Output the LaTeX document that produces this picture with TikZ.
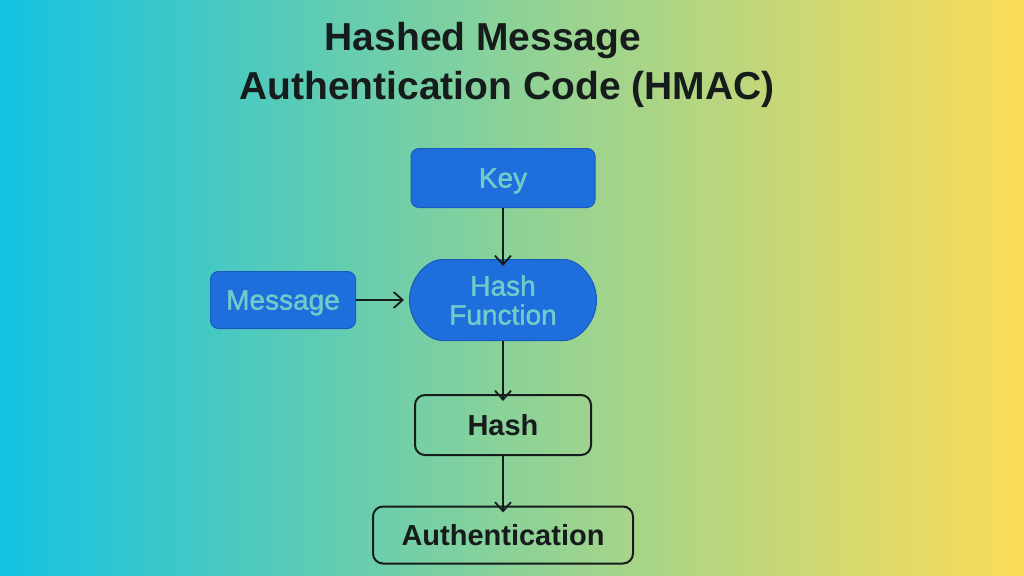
\documentclass[tikz,border=0pt]{standalone}
\usepackage{fontspec}
\setmainfont{Liberation Sans}
\newfontfamily\semib[FakeBold=1.5]{Liberation Sans}
\usetikzlibrary{arrows.meta,shapes.misc}
\definecolor{cLeft}{RGB}{20,194,226}
\definecolor{cMid}{RGB}{140,210,152}
\definecolor{cRight}{RGB}{252,220,88}
\definecolor{boxblue}{RGB}{30,110,220}
\definecolor{boxedge}{RGB}{25,90,190}
\definecolor{boxtext}{RGB}{110,205,200}
\definecolor{ink}{RGB}{22,28,28}
\pgfdeclarehorizontalshading{bgshade}{100bp}{color(0bp)=(cLeft); color(25bp)=(cLeft); color(50bp)=(cMid); color(75bp)=(cRight); color(100bp)=(cRight)}
\tikzset{
  bluebox/.style={draw=boxedge, line width=1pt, fill=boxblue, rounded corners=8pt, text=boxtext, font=\semib\fontsize{28}{29}\selectfont, align=center, inner sep=0pt, text depth=0pt},
  outbox/.style={draw=ink, line width=2pt, rounded corners=10pt, text=ink, font=\fontsize{29}{30}\selectfont\bfseries, inner sep=0pt, text depth=0pt},
  conn/.style={draw=ink, line width=1.8pt, -{Straight Barb[length=9pt,width=16pt]}},
  titletext/.style={text=ink, font=\fontsize{39}{42}\selectfont\bfseries, inner sep=0pt}
}
\begin{document}
\begin{tikzpicture}[x=1pt,y=-1pt]
\useasboundingbox (0,0) rectangle (1024,575);
\shade[shading=bgshade] (0,0) rectangle (1024,575);
\node[titletext] (t1) at (483,41) {Hashed Message};
\node[titletext] (t2) at (507,89) {Authentication Code (HMAC)};
\node[bluebox, minimum width=184pt, minimum height=59pt] (key) at (503,178) {Key};
\node[bluebox, rounded rectangle, minimum width=187pt, minimum height=81pt] (hf) at (503,300) {Hash\\Function};
\node[bluebox, minimum width=145pt, minimum height=57pt] (msg) at (283,300) {Message};
\node[outbox, minimum width=176pt, minimum height=60pt] (hash) at (503,425) {Hash};
\node[outbox, minimum width=260pt, minimum height=57pt] (auth) at (503,535) {Authentication};
\draw[conn] (key.south) -- ([yshift=-7pt]hf.north);
\draw[conn] (msg.east) -- ([xshift=-5pt]hf.west);
\draw[conn] (hf.south) -- ([yshift=-7pt]hash.north);
\draw[conn] (hash.south) -- ([yshift=-7pt]auth.north);
\end{tikzpicture}
\end{document}
